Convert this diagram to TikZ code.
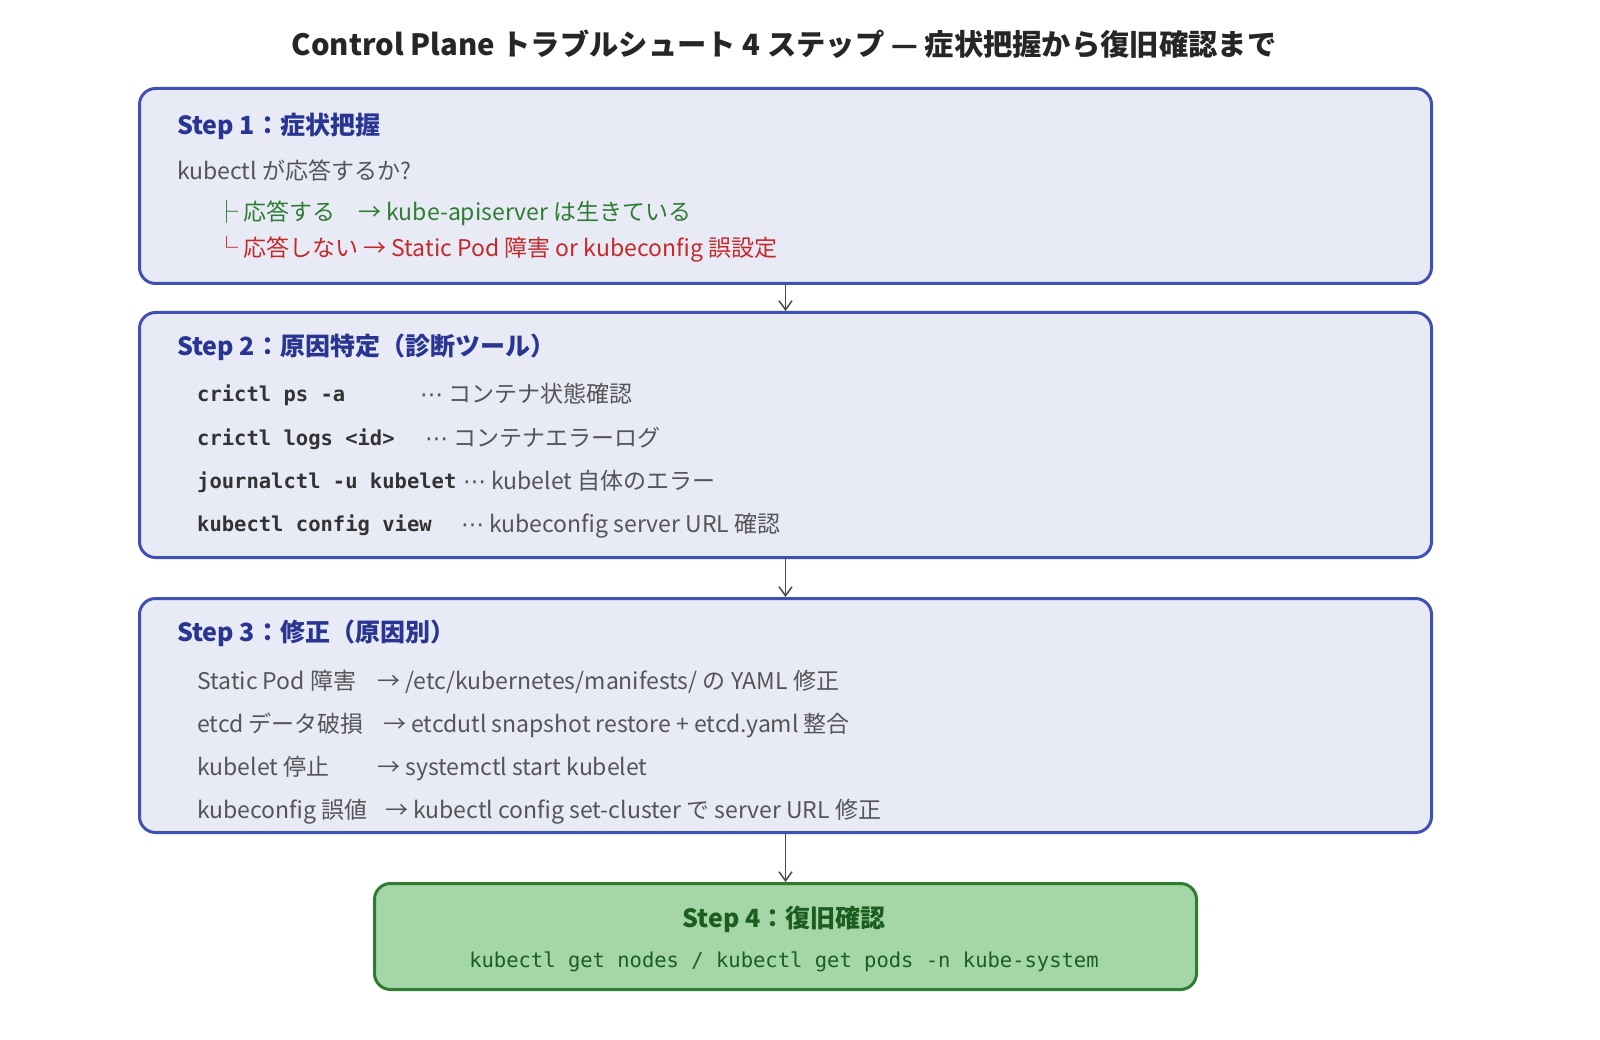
\documentclass[tikz,border=0pt]{standalone}
\usepackage{fontspec}
\setmainfont{Noto Sans CJK JP}
\setmonofont{DejaVu Sans Mono}
\newfontfamily\dotsfont{DejaVu Sans}
\newcommand{\middots}{{\dotsfont ⋯}}
\usetikzlibrary{calc,positioning,arrows.meta}
\definecolor{boxblue}{HTML}{3F51B5}
\definecolor{boxfill}{HTML}{E8EAF6}
\definecolor{headblue}{HTML}{283593}
\definecolor{bodygray}{HTML}{555555}
\definecolor{codegray}{HTML}{333333}
\definecolor{okgreen}{HTML}{2E7D32}
\definecolor{ngred}{HTML}{C62828}
\definecolor{donefill}{HTML}{A5D6A7}
\definecolor{donegreen}{HTML}{1B5E20}
\definecolor{arrowgray}{HTML}{4A4A4A}

\begin{document}
\begin{tikzpicture}[
  x=1pt,y=-1pt,
  step_box/.style={rectangle,rounded corners=16pt,line width=3pt,draw=boxblue,fill=boxfill,anchor=north west,minimum width=1292pt},
  done_box/.style={rectangle,rounded corners=16pt,line width=3pt,draw=okgreen,fill=donefill,anchor=north west,minimum width=822pt,minimum height=106pt},
  step_head/.style={anchor=west,inner sep=0pt,text height=25pt,text depth=4pt,font=\fontsize{25}{30}\selectfont\bfseries,text=headblue},
  step_text/.style={anchor=west,inner sep=0pt,text height=23pt,text depth=4pt,font=\fontsize{23}{27}\selectfont,text=bodygray},
  step_code/.style={anchor=west,inner sep=0pt,text height=21pt,text depth=4pt,font=\fontsize{20.5}{24}\selectfont\ttfamily\bfseries,text=codegray},
  flow_arrow/.style={-{Straight Barb[length=9pt,width=13pt]},line width=1.5pt,draw=arrowgray}
  ]
  \useasboundingbox[fill=white] (0,0) rectangle (1600,1040);

  \node (title) [font=\fontsize{29.3}{34}\selectfont\bfseries,text=black!85] at(784,44) {Control Plane トラブルシュート 4 ステップ — 症状把握から復旧確認まで};

%step 1
  \node (S_1) [step_box,minimum height=195pt] at(138,87) {};
  \node (S_1_head) [step_head] at(177,124) {Step 1：症状把握};
  \node (S_1_q) [step_text] at(177,170) {kubectl が応答するか?};
  \node (S_1_yes) [step_text,text=okgreen] at(215,211) {├ 応答する　→ kube-apiserver は生きている};
  \node (S_1_no) [step_text,text=ngred] at(215,247) {└ 応答しない → Static Pod 障害 or kubeconfig 誤設定};

%step 2
  \node (S_2) [step_box,minimum height=245pt] at(138,311) {};
  \node (S_2_head) [step_head] at(177,345) {Step 2：原因特定（診断ツール）};
  \node (S_2_cmd_a) [step_code] at(197,393) {crictl ps -a};
  \node (S_2_cmd_b) [step_code] at(197,437) {crictl logs <id>};
  \node (S_2_cmd_c) [step_code] at(197,480) {journalctl -u kubelet};
  \node (S_2_cmd_d) [step_code] at(197,523) {kubectl config view};
  \node (S_2_note_a) [step_text] at(420,393) {\middots{} コンテナ状態確認};
  \node (S_2_note_b) [step_text] at(425,437) {\middots{} コンテナエラーログ};
  \node (S_2_note_c) [step_text] at(463,480) {\middots{} kubelet 自体のエラー};
  \node (S_2_note_d) [step_text] at(461,523) {\middots{} kubeconfig server URL 確認};

%step 3
  \node (S_3) [step_box,minimum height=234pt] at(138,597) {};
  \node (S_3_head) [step_head] at(177,631) {Step 3：修正（原因別）};
  \node (S_3_case_a) [step_text] at(197,680) {Static Pod 障害};
  \node (S_3_case_b) [step_text] at(197,723) {etcd データ破損};
  \node (S_3_case_c) [step_text] at(197,766) {kubelet 停止};
  \node (S_3_case_d) [step_text] at(197,809) {kubeconfig 誤値};
  \node (S_3_fix_a) [step_text] at(377,680) {→ /etc/kubernetes/manifests/ の YAML 修正};
  \node (S_3_fix_b) [step_text] at(383,723) {→ etcdutl snapshot restore + etcd.yaml 整合};
  \node (S_3_fix_c) [step_text] at(377,766) {→ systemctl start kubelet};
  \node (S_3_fix_d) [step_text] at(385,809) {→ kubectl config set-cluster で server URL 修正};

%step 4
  \node (S_4) [done_box] at(373,882) {};
  \node (S_4_head) [step_head,anchor=center,text=donegreen] at(784,917) {Step 4：復旧確認};
  \node (S_4_cmd) [step_code,anchor=center,font=\fontsize{20.5}{24}\selectfont\ttfamily,text=donegreen] at(784,959) {kubectl get nodes / kubectl get pods -n kube-system};

  \draw [flow_arrow] (S_1.south) -- (S_2.north);
  \draw [flow_arrow] (S_2.south) -- (S_3.north);
  \draw [flow_arrow] (S_3.south) -- (S_4.north);

\end{tikzpicture}
\end{document}
